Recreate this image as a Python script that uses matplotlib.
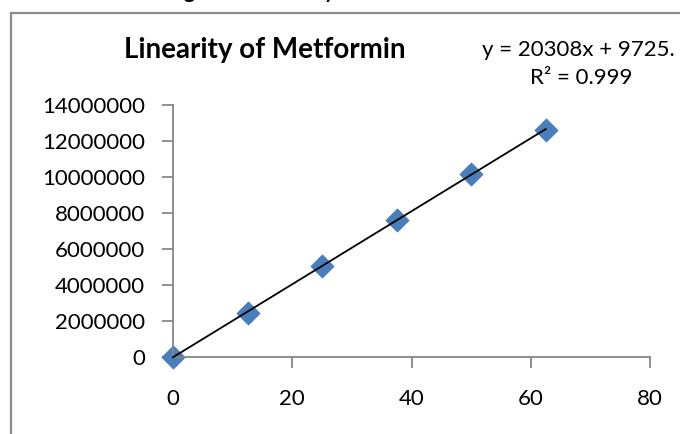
import numpy as np
import matplotlib
matplotlib.use("Agg")
from matplotlib import pyplot as plt
from matplotlib.patches import Rectangle

plt.rcParams['font.family'] = ['Lato', 'DejaVu Sans']

# concentration (x) vs peak area (y)
conc = [0, 12.5, 25, 37.5, 50, 62.5]
area = [0, 2470000, 5070000, 7630000, 10140000, 12630000]
x_ticks = [0, 20, 40, 60, 80]
y_ticks = [0, 2000000, 4000000, 6000000, 8000000, 10000000, 12000000, 14000000]
eq_text = "y = 20308x + 9725."
r2_text = "R\u00b2 = 0.999"

W, H = 680, 434
fig = plt.figure(figsize=(W/100, H/100), dpi=100)

# outer chart frame, runs off the right and bottom edges
fig.patches.append(Rectangle((11/W, -0.1), 1.2, 1 - 13/H + 0.1, transform=fig.transFigure,
                             fill=False, edgecolor='#8c8c8c', lw=1.6))

# caption mostly cropped away at the very top, only descenders show
fig.text(316/W, 1 + 2/H, "Figure 1: Linearity of Metformin", ha='center', va='baseline',
         fontsize=15, fontweight='bold')

ax = fig.add_axes([173/W, 1 - 357/H, (650-173)/W, (357-105)/H])
ax.set_xlim(0, 80)
ax.set_ylim(0, 14000000)
ax.set_xticks(x_ticks)
ax.set_yticks(y_ticks)
ax.set_yticklabels([str(v) for v in y_ticks])
for s in ['top', 'right']:
    ax.spines[s].set_visible(False)
for s in ['left', 'bottom']:
    ax.spines[s].set_color('#868686')
    ax.spines[s].set_linewidth(1.3)
ax.tick_params(direction='out', length=8, width=1.3, color='#868686', labelsize=16,
               labelcolor='black')
ax.tick_params(axis='y', pad=12)
ax.tick_params(axis='x', pad=15)

# trend line
k, b = np.polyfit(conc, area, 1)
xs = np.array([conc[0], conc[-1]])
ax.plot(xs, k*xs + b, color='black', lw=1.3, zorder=3, clip_on=False)
ax.scatter(conc, area, marker='D', s=130, color='#4a7ebb', zorder=2, clip_on=False,
           edgecolors='#4a7ebb')

fig.text(265/W, 1 - 50/H, "Linearity of Metformin", ha='center', va='center',
         fontsize=20, fontweight='bold')
fig.text(482/W, 1 - 50/H, eq_text, ha='left', va='center', fontsize=16)
fig.text(581/W, 1 - 78/H, r2_text, ha='center', va='center', fontsize=16)

fig.savefig("out.png", dpi=100)
